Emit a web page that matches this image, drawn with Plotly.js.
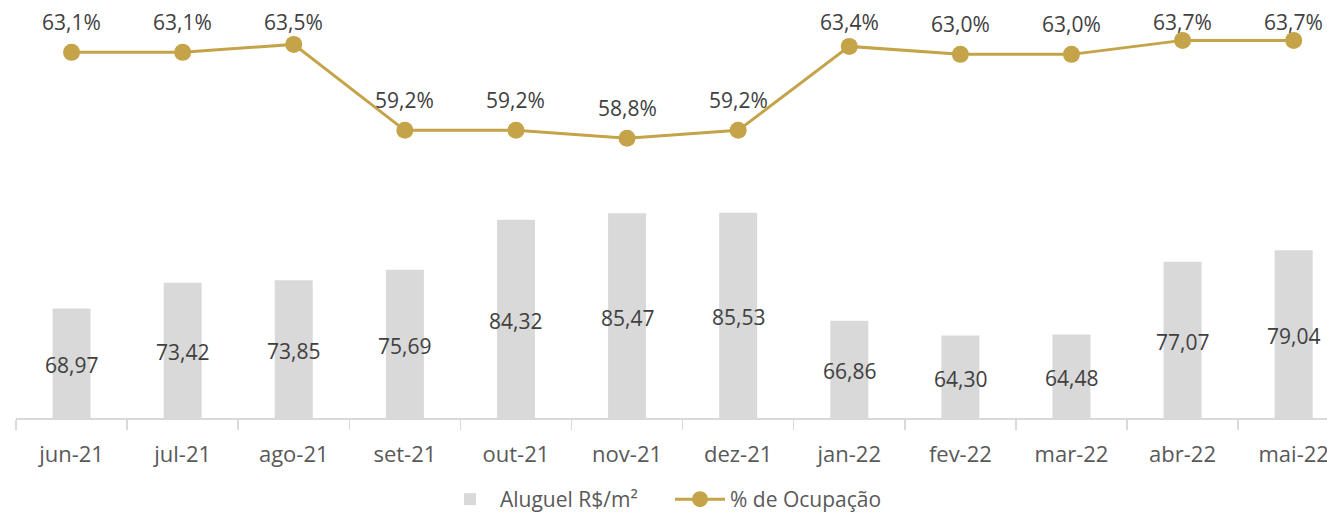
<!DOCTYPE html>
<html>
<head>
<meta charset="utf-8">
<script src="https://cdn.plot.ly/plotly-3.0.1.min.js"></script>
<style>html,body{margin:0;padding:0;background:#fff;}#chart{width:1327px;height:513px;}</style>
</head>
<body>
<div id="chart"></div>
<script>
const months = ['jun-21','jul-21','ago-21','set-21','out-21','nov-21','dez-21','jan-22','fev-22','mar-22','abr-22','mai-22'];
const rentValues = [68.97, 73.42, 73.85, 75.69, 84.32, 85.47, 85.53, 66.86, 64.30, 64.48, 77.07, 79.04];
const occupancyValues = [63.1, 63.1, 63.5, 59.2, 59.2, 58.8, 59.2, 63.4, 63.0, 63.0, 63.7, 63.7];
const rentName = 'Aluguel R$/m²';
const occName = '% de Ocupação';

const Y1_MIN = 50, Y1_MAX = 122.4;
const Y2_MIN = 44.81, Y2_MAX = 65.72;
const FONT = '"Open Sans", "Liberation Sans", sans-serif';
const GOLD = '#C5A349';
const LABEL_OFFSET = 30;   // px above the point
const LABEL_MIN_Y = 22;    // labels kept inside the chart area (like Excel)

const fmt = (v, d) => v.toFixed(d).replace('.', ',');

const bars = {
  type: 'bar', x: months, y: rentValues, name: rentName,
  marker: {color: '#D9D9D9'}, width: 0.342, yaxis: 'y', hoverinfo: 'skip'
};
const line = {
  type: 'scatter', mode: 'lines+markers', x: months, y: occupancyValues, name: occName,
  line: {color: GOLD, width: 3}, marker: {color: GOLD, size: 17}, yaxis: 'y2', cliponaxis: false
};

function buildAnnotations(shiftFn) {
  const ann = [];
  months.forEach((m, i) => {
    ann.push({x: m, y: (rentValues[i] + Y1_MIN) / 2, xref: 'x', yref: 'y', text: fmt(rentValues[i], 2),
      showarrow: false, yshift: -2, font: {family: FONT, size: 21, color: '#404040'}});
    ann.push({x: m, y: occupancyValues[i], xref: 'x', yref: 'y2', text: fmt(occupancyValues[i], 1) + '%',
      showarrow: false, yshift: shiftFn(i), font: {family: FONT, size: 21, color: '#404040'}});
  });
  return ann;
}

const layout = {
  width: 1327, height: 513,
  margin: {l: 16, r: 0, t: 0, b: 95, autoexpand: false},
  paper_bgcolor: '#fff', plot_bgcolor: '#fff',
  font: {family: FONT, color: '#595959'},
  showlegend: true,
  legend: {orientation: 'h', x: (440 - 16) / 1311, xanchor: 'left', y: -0.195, yanchor: 'middle',
    font: {family: FONT, size: 21, color: '#595959'}, traceorder: 'normal', itemwidth: 50, entrywidth: 165},
  xaxis: {type: 'category', range: [-0.5, 11.3], showgrid: false, zeroline: false, automargin: false,
    showline: true, linecolor: '#D9D9D9', linewidth: 1.5,
    ticks: 'outside', tickson: 'boundaries', ticklen: 10, tickcolor: '#D9D9D9', tickwidth: 1.5,
    ticklabelstandoff: 16,
    tickfont: {family: FONT, size: 22, color: '#595959'}},
  yaxis: {range: [Y1_MIN, Y1_MAX], visible: false, showgrid: false, zeroline: false},
  yaxis2: {range: [Y2_MIN, Y2_MAX], overlaying: 'y', side: 'right', visible: false, showgrid: false, zeroline: false},
  annotations: buildAnnotations(() => LABEL_OFFSET)
};

const gd = document.getElementById('chart');
Plotly.newPlot(gd, [bars, line], layout, {displayModeBar: false, staticPlot: true}).then(() => {
  const ya = gd._fullLayout.yaxis2;
  const shifts = occupancyValues.map(v => {
    const py = ya._offset + ya.l2p(v);
    return Math.min(LABEL_OFFSET, py - LABEL_MIN_Y);
  });
  return Plotly.relayout(gd, {annotations: buildAnnotations(i => shifts[i])});
});
</script>
</body>
</html>
